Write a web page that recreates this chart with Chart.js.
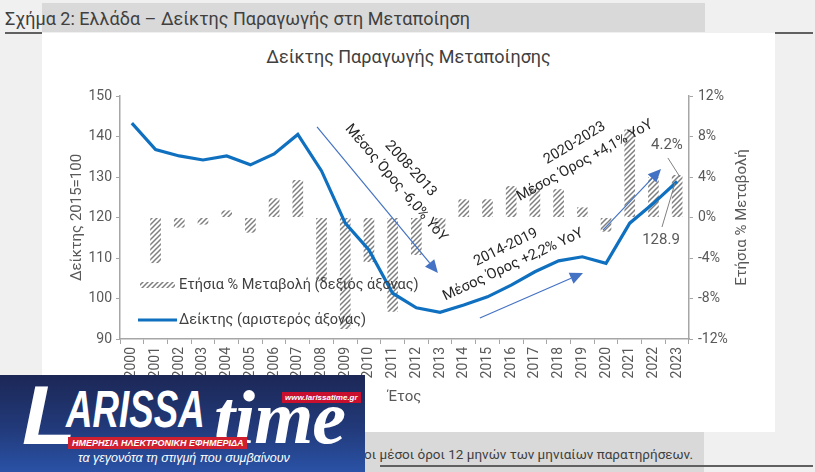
<!DOCTYPE html>
<html lang="el">
<head>
<meta charset="utf-8">
<title>Δείκτης Παραγωγής Μεταποίησης</title>
<script src="https://cdn.jsdelivr.net/npm/chart.js@4"></script>
<style>
  html, body { margin: 0; padding: 0; }
  body { width: 815px; height: 472px; position: relative; overflow: hidden; background: #f0f0f0; font-family: Roboto, "Noto Sans", sans-serif; }
  #topband { position: absolute; left: 42px; top: 3px; width: 663px; height: 29px; background: #d9d9d9; }
  #header { position: absolute; left: 5px; top: 8px; font-size: 18px; color: #404040; white-space: nowrap; }
  .rule { position: absolute; height: 2px; background: #606060; }
  #panel { position: absolute; left: 42px; top: 33px; width: 733px; height: 399px; background: #fff; }
  #charttitle { position: absolute; left: 42px; top: 46px; width: 733px; text-align: center; font-size: 18px; color: #404040; }
  #chart { position: absolute; left: 42px; top: 33px; }
  #footband { position: absolute; left: 0; top: 432px; width: 704px; height: 40px; background: #d9d9d9; }
  #note { position: absolute; right: 122px; top: 446px; font-size: 13.5px; color: #404040; white-space: nowrap; }
  #logo { position: absolute; left: 0; top: 375px; width: 365px; height: 97px; overflow: hidden;
          background: linear-gradient(180deg, #1c2756 0%, #223a7a 55%, #2a52a6 100%); color: #fff; }
  #logo div { position: absolute; white-space: nowrap; }
  #logo .L { left: 22px; top: -8px; font: italic 900 84px "Liberation Sans", Arial, sans-serif; transform: scaleX(1.05); transform-origin: left; }
  #logo .arissa { left: 66px; top: 5px; font: italic 700 51px "Liberation Sans", Arial, sans-serif; transform: scaleX(0.72); transform-origin: left; }
  #logo .time { left: 214px; top: -1px; font: italic 700 76px "Liberation Serif", serif; letter-spacing: -1px; }
  #logo .url { left: 282px; top: 17px; background: #c8102e; font: italic 700 8px "Liberation Sans", sans-serif; padding: 1px 3px; }
  #logo .band { left: 68px; top: 62px; background: #d01f2f; font: italic 700 9px "Liberation Sans", sans-serif; padding: 1px 4px; }
  #logo .tag { left: 78px; top: 76px; font: italic 400 12.5px "Liberation Sans", sans-serif; }
</style>
</head>
<body>
<div id="topband"></div>
<div id="header">Σχήμα 2: Ελλάδα – Δείκτης Παραγωγής στη Μεταποίηση</div>
<div class="rule" style="left:5px;top:32px;width:37px"></div>
<div class="rule" style="left:775px;top:32px;width:38px"></div>
<div id="panel"></div>
<div id="charttitle">Δείκτης Παραγωγής Μεταποίησης</div>
<canvas id="chart" width="733" height="399"></canvas>
<div id="footband"></div>
<div id="note">Σημ.: Τα ετήσια στοιχεία είναι οι μέσοι όροι 12 μηνών των μηνιαίων παρατηρήσεων.</div>
<div class="rule" style="left:380px;top:465px;width:433px"></div>
<div id="logo">
  <div class="L">L</div>
  <div class="arissa">ARISSA</div>
  <div class="time">time</div>
  <div class="url">www.larissatime.gr</div>
  <div class="band">ΗΜΕΡΗΣΙΑ ΗΛΕΚΤΡΟΝΙΚΗ ΕΦΗΜΕΡΙΔΑ</div>
  <div class="tag">τα γεγονότα τη στιγμή που συμβαίνουν</div>
</div>

<script>
const years = ['2000', '2001', '2002', '2003', '2004', '2005', '2006', '2007', '2008', '2009', '2010', '2011',
               '2012', '2013', '2014', '2015', '2016', '2017', '2018', '2019', '2020', '2021', '2022', '2023'];
// Δείκτης 2015=100 (left axis)
const indexValues = [143.3, 136.8, 135.2, 134.2, 135.2, 133.0, 135.7, 140.5, 131.5, 118.6, 112.0, 101.3,
                     97.7, 96.6, 98.4, 100.4, 103.3, 106.6, 109.3, 110.3, 108.7, 118.6, 123.5, 128.9];
// Ετήσια % μεταβολή (right axis)
const yoyChange = [null, -4.5, -1.0, -0.7, 0.7, -1.5, 1.9, 3.7, -6.3, -11.0, -4.4, -9.3,
                   -3.7, -1.1, 1.8, 1.8, 3.1, 2.9, 2.8, 1.0, -1.4, 8.7, 4.0, 4.2];
const leftTicks = [90, 100, 110, 120, 130, 140, 150];
const rightTicks = [-12, -8, -4, 0, 4, 8, 12];

// annotation anchors: x = category index, y = left-axis value
const arrows = [
    { from: [7.81, 142.35], to: [12.91, 106.3] },
    { from: [14.68, 95.2], to: [19.03, 106.3] },
    { from: [19.87, 116.9], to: [22.32, 132.0] }
];
const notes = [
    { text: '2008-2013', at: [11.75, 132.0], angle: 48 },
    { text: 'Μέσος Όρος -6,0% ΥοΥ', at: [11.14, 128.5], angle: 49.5 },
    { text: '2014-2019', at: [15.78, 112.6], angle: -26 },
    { text: 'Μέσος Όρος +2,2% ΥοΥ', at: [16.08, 108.3], angle: -25 },
    { text: '2020-2023', at: [18.68, 138.3], angle: -31 },
    { text: 'Μέσος Όρος +4,1% ΥοΥ', at: [19.11, 134.0], angle: -29 }
];
const callouts = [
    { text: '4.2%', at: [22.57, 137.9], line: [[22.61, 134.7], [23.12, 130.0]] },
    { text: '128.9', at: [22.32, 114.4], line: [[22.36, 117.65], [22.91, 128.5]] }
];

const canvas = document.getElementById('chart');
const ctx = canvas.getContext('2d');
const grey = '#595959';
const axisGrey = '#a6a6a6';
const lineBlue = '#1070c0';
const arrowBlue = '#4472c4';
const fontFamily = 'Roboto, "Noto Sans", sans-serif';

function makeHatch() {
    const c = document.createElement('canvas');
    c.width = 5;
    c.height = 5;
    const g = c.getContext('2d');
    g.fillStyle = '#ffffff';
    g.fillRect(0, 0, 5, 5);
    g.strokeStyle = '#7f7f7f';
    g.lineWidth = 1.5;
    g.beginPath();
    g.moveTo(0, 5); g.lineTo(5, 0);
    g.moveTo(-1, 1); g.lineTo(1, -1);
    g.moveTo(4, 6); g.lineTo(6, 4);
    g.stroke();
    return ctx.createPattern(c, 'repeat');
}
const hatch = makeHatch();

function drawArrow(c, x1, y1, x2, y2) {
    const ang = Math.atan2(y2 - y1, x2 - x1);
    const len = 13, wid = 6;
    const bx = x2 - len * Math.cos(ang), by = y2 - len * Math.sin(ang);
    c.strokeStyle = arrowBlue;
    c.fillStyle = arrowBlue;
    c.lineWidth = 1.2;
    c.beginPath();
    c.moveTo(x1, y1);
    c.lineTo(bx, by);
    c.stroke();
    c.beginPath();
    c.moveTo(x2, y2);
    c.lineTo(bx + wid * Math.sin(ang), by - wid * Math.cos(ang));
    c.lineTo(bx - wid * Math.sin(ang), by + wid * Math.cos(ang));
    c.closePath();
    c.fill();
}

const extras = {
    id: 'extras',
    afterDatasetsDraw(chart) {
        const c = chart.ctx;
        const x = chart.scales.x, y = chart.scales.y;
        const a = chart.chartArea;
        const px = v => x.getPixelForValue(v);
        const py = v => y.getPixelForValue(v);
        c.save();

        arrows.forEach(ar => drawArrow(c, px(ar.from[0]), py(ar.from[1]), px(ar.to[0]), py(ar.to[1])));

        c.fillStyle = '#262626';
        c.font = '14.5px ' + fontFamily;
        c.textAlign = 'center';
        c.textBaseline = 'middle';
        notes.forEach(n => {
            c.save();
            c.translate(px(n.at[0]), py(n.at[1]));
            c.rotate(n.angle * Math.PI / 180);
            c.fillText(n.text, 0, 0);
            c.restore();
        });

        callouts.forEach(co => {
            c.strokeStyle = '#808080';
            c.lineWidth = 1;
            c.beginPath();
            c.moveTo(px(co.line[0][0]), py(co.line[0][1]));
            c.lineTo(px(co.line[1][0]), py(co.line[1][1]));
            c.stroke();
            c.fillStyle = grey;
            c.font = '15px ' + fontFamily;
            c.fillText(co.text, px(co.at[0]), py(co.at[1]));
        });

        // legend inside the plot
        const lx = a.left + 20, ly1 = a.top + 189, ly2 = a.top + 224;
        c.fillStyle = hatch;
        c.fillRect(lx, ly1 - 3, 35, 6);
        c.strokeStyle = lineBlue;
        c.lineWidth = 3.2;
        c.beginPath();
        c.moveTo(lx - 2, ly2);
        c.lineTo(lx + 37, ly2);
        c.stroke();
        c.fillStyle = '#404040';
        c.font = '14.5px ' + fontFamily;
        c.textAlign = 'left';
        c.fillText('Ετήσια % Μεταβολή (δεξιός άξονας)', lx + 39, ly1);
        c.fillText('Δείκτης (αριστερός άξονας)', lx + 39, ly2);

        // axis titles
        c.fillStyle = grey;
        c.font = '15px ' + fontFamily;
        c.textAlign = 'center';
        c.fillText('Έτος', (a.left + a.right) / 2, a.bottom + 58);
        c.save();
        c.translate(a.left - 43, (a.top + a.bottom) / 2);
        c.rotate(-Math.PI / 2);
        c.fillText('Δείκτης 2015=100', 0, 0);
        c.restore();
        c.save();
        c.translate(a.right + 53, (a.top + a.bottom) / 2);
        c.rotate(-Math.PI / 2);
        c.fillText('Ετήσια % Μεταβολή', 0, 0);
        c.restore();

        c.restore();
    }
};

new Chart(ctx, {
    data: {
        labels: years,
        datasets: [
            {
                type: 'line',
                label: 'Δείκτης (αριστερός άξονας)',
                data: indexValues,
                yAxisID: 'y',
                borderColor: lineBlue,
                borderWidth: 3.2,
                pointRadius: 0,
                tension: 0,
                order: 0
            },
            {
                type: 'bar',
                label: 'Ετήσια % Μεταβολή (δεξιός άξονας)',
                data: yoyChange,
                yAxisID: 'y1',
                backgroundColor: hatch,
                borderWidth: 0,
                categoryPercentage: 0.5,
                barPercentage: 0.9,
                order: 1
            }
        ]
    },
    options: {
        responsive: false,
        animation: false,
        layout: { padding: { top: 63, left: 0, right: 0, bottom: 0 } },
        plugins: {
            legend: { display: false },
            tooltip: { enabled: false },
            title: { display: false }
        },
        scales: {
            x: {
                offset: true,
                grid: { display: true, drawOnChartArea: false, offset: true, tickLength: 5, color: axisGrey },
                border: { color: axisGrey, width: 1.5 },
                ticks: { minRotation: 90, maxRotation: 90, color: grey, padding: 3, font: { family: fontFamily, size: 14 } },
                afterFit: s => { s.height = 93; }
            },
            y: {
                position: 'left',
                min: leftTicks[0],
                max: leftTicks[leftTicks.length - 1],
                afterBuildTicks: s => { s.ticks = leftTicks.map(v => ({ value: v })); },
                grid: { drawOnChartArea: false, tickLength: 4, color: axisGrey },
                border: { color: axisGrey, width: 1.5 },
                ticks: { color: grey, padding: 4, font: { family: fontFamily, size: 14 } },
                afterFit: s => { s.width = 78; }
            },
            y1: {
                position: 'right',
                min: rightTicks[0],
                max: rightTicks[rightTicks.length - 1],
                afterBuildTicks: s => { s.ticks = rightTicks.map(v => ({ value: v })); },
                grid: { drawOnChartArea: false, tickLength: 4, color: axisGrey },
                border: { color: axisGrey, width: 1.5 },
                ticks: { color: grey, padding: 5, font: { family: fontFamily, size: 14 }, callback: v => v + '%' },
                afterFit: s => { s.width = 86; }
            }
        }
    },
    plugins: [extras]
});
</script>
</body>
</html>
